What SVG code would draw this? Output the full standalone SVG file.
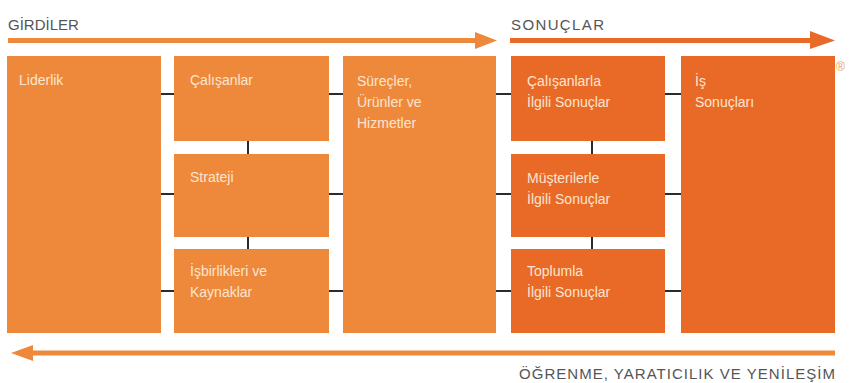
<svg xmlns="http://www.w3.org/2000/svg" width="852" height="383" viewBox="0 0 852 383">
<style>
.l{fill:#EE893B}
.d{fill:#E86A26}
.t{font-family:"Liberation Sans",Arial,sans-serif;font-size:14px;fill:#FCE5D0}
.h{font-family:"Liberation Sans",Arial,sans-serif;font-size:15px;fill:#555555}
.c{stroke:#2B2B2B;stroke-width:2;fill:none}
</style>
<rect width="852" height="383" fill="#FFFFFF"/>
<g id="arrows">
<rect x="8" y="38" width="470" height="5" class="l"/>
<polygon points="475,32 497,40.5 475,49" class="l"/>
<rect x="510" y="38" width="302" height="5" class="d"/>
<polygon points="810,31 835,40.5 810,49" class="d"/>
<rect x="30" y="350.5" width="805" height="5" class="l"/>
<polygon points="33,345 11,353 33,361" class="l"/>
</g>
<g id="labels">
<text x="8" y="30" class="h">GİRDİLER</text>
<text x="511" y="30" class="h" textLength="93">SONUÇLAR</text>
<text x="835" y="379" class="h" text-anchor="end" font-size="14" textLength="316">ÖĞRENME, YARATICILIK VE YENİLEŞİM</text>
<text x="836" y="71" font-family="Liberation Sans,Arial,sans-serif" font-size="12" fill="#EE9A60">®</text>
</g>
<g id="connectors">
<path class="c" d="M161 94H174M161 194H174M161 291H174M329 94H343M329 194H343M329 291H343M496 94H511M496 194H511M496 291H511M665 94H681M665 194H681M665 291H681M248 141V154M248 237V249M592 141V154M592 237V249"/>
</g>
<g id="liderlik"><rect x="7" y="56" width="154" height="277" class="l"/><text x="19" y="85" class="t">Liderlik</text></g>
<g id="calisanlar"><rect x="174" y="56" width="155" height="85" class="l"/><text x="190" y="85" class="t">Çalışanlar</text></g>
<g id="strateji"><rect x="174" y="154" width="155" height="83" class="l"/><text x="190" y="182" class="t">Strateji</text></g>
<g id="isbirlikleri"><rect x="174" y="249" width="155" height="84" class="l"/><text x="190" y="276" class="t">İşbirlikleri ve</text><text x="190" y="297" class="t">Kaynaklar</text></g>
<g id="surecler"><rect x="343" y="56" width="153" height="277" class="l"/><text x="357" y="86" class="t">Süreçler,</text><text x="357" y="107" class="t">Ürünler ve</text><text x="357" y="128" class="t">Hizmetler</text></g>
<g id="calisanlarla"><rect x="511" y="56" width="154" height="85" class="d"/><text x="527" y="86" class="t">Çalışanlarla</text><text x="527" y="107" class="t">İlgili Sonuçlar</text></g>
<g id="musterilerle"><rect x="511" y="154" width="154" height="83" class="d"/><text x="527" y="183" class="t">Müşterilerle</text><text x="527" y="204" class="t">İlgili Sonuçlar</text></g>
<g id="toplumla"><rect x="511" y="249" width="154" height="84" class="d"/><text x="527" y="276" class="t">Toplumla</text><text x="527" y="297" class="t">İlgili Sonuçlar</text></g>
<g id="is-sonuclari"><rect x="681" y="56" width="154" height="277" class="d"/><text x="695" y="86" class="t">İş</text><text x="695" y="107" class="t">Sonuçları</text></g>
</svg>
